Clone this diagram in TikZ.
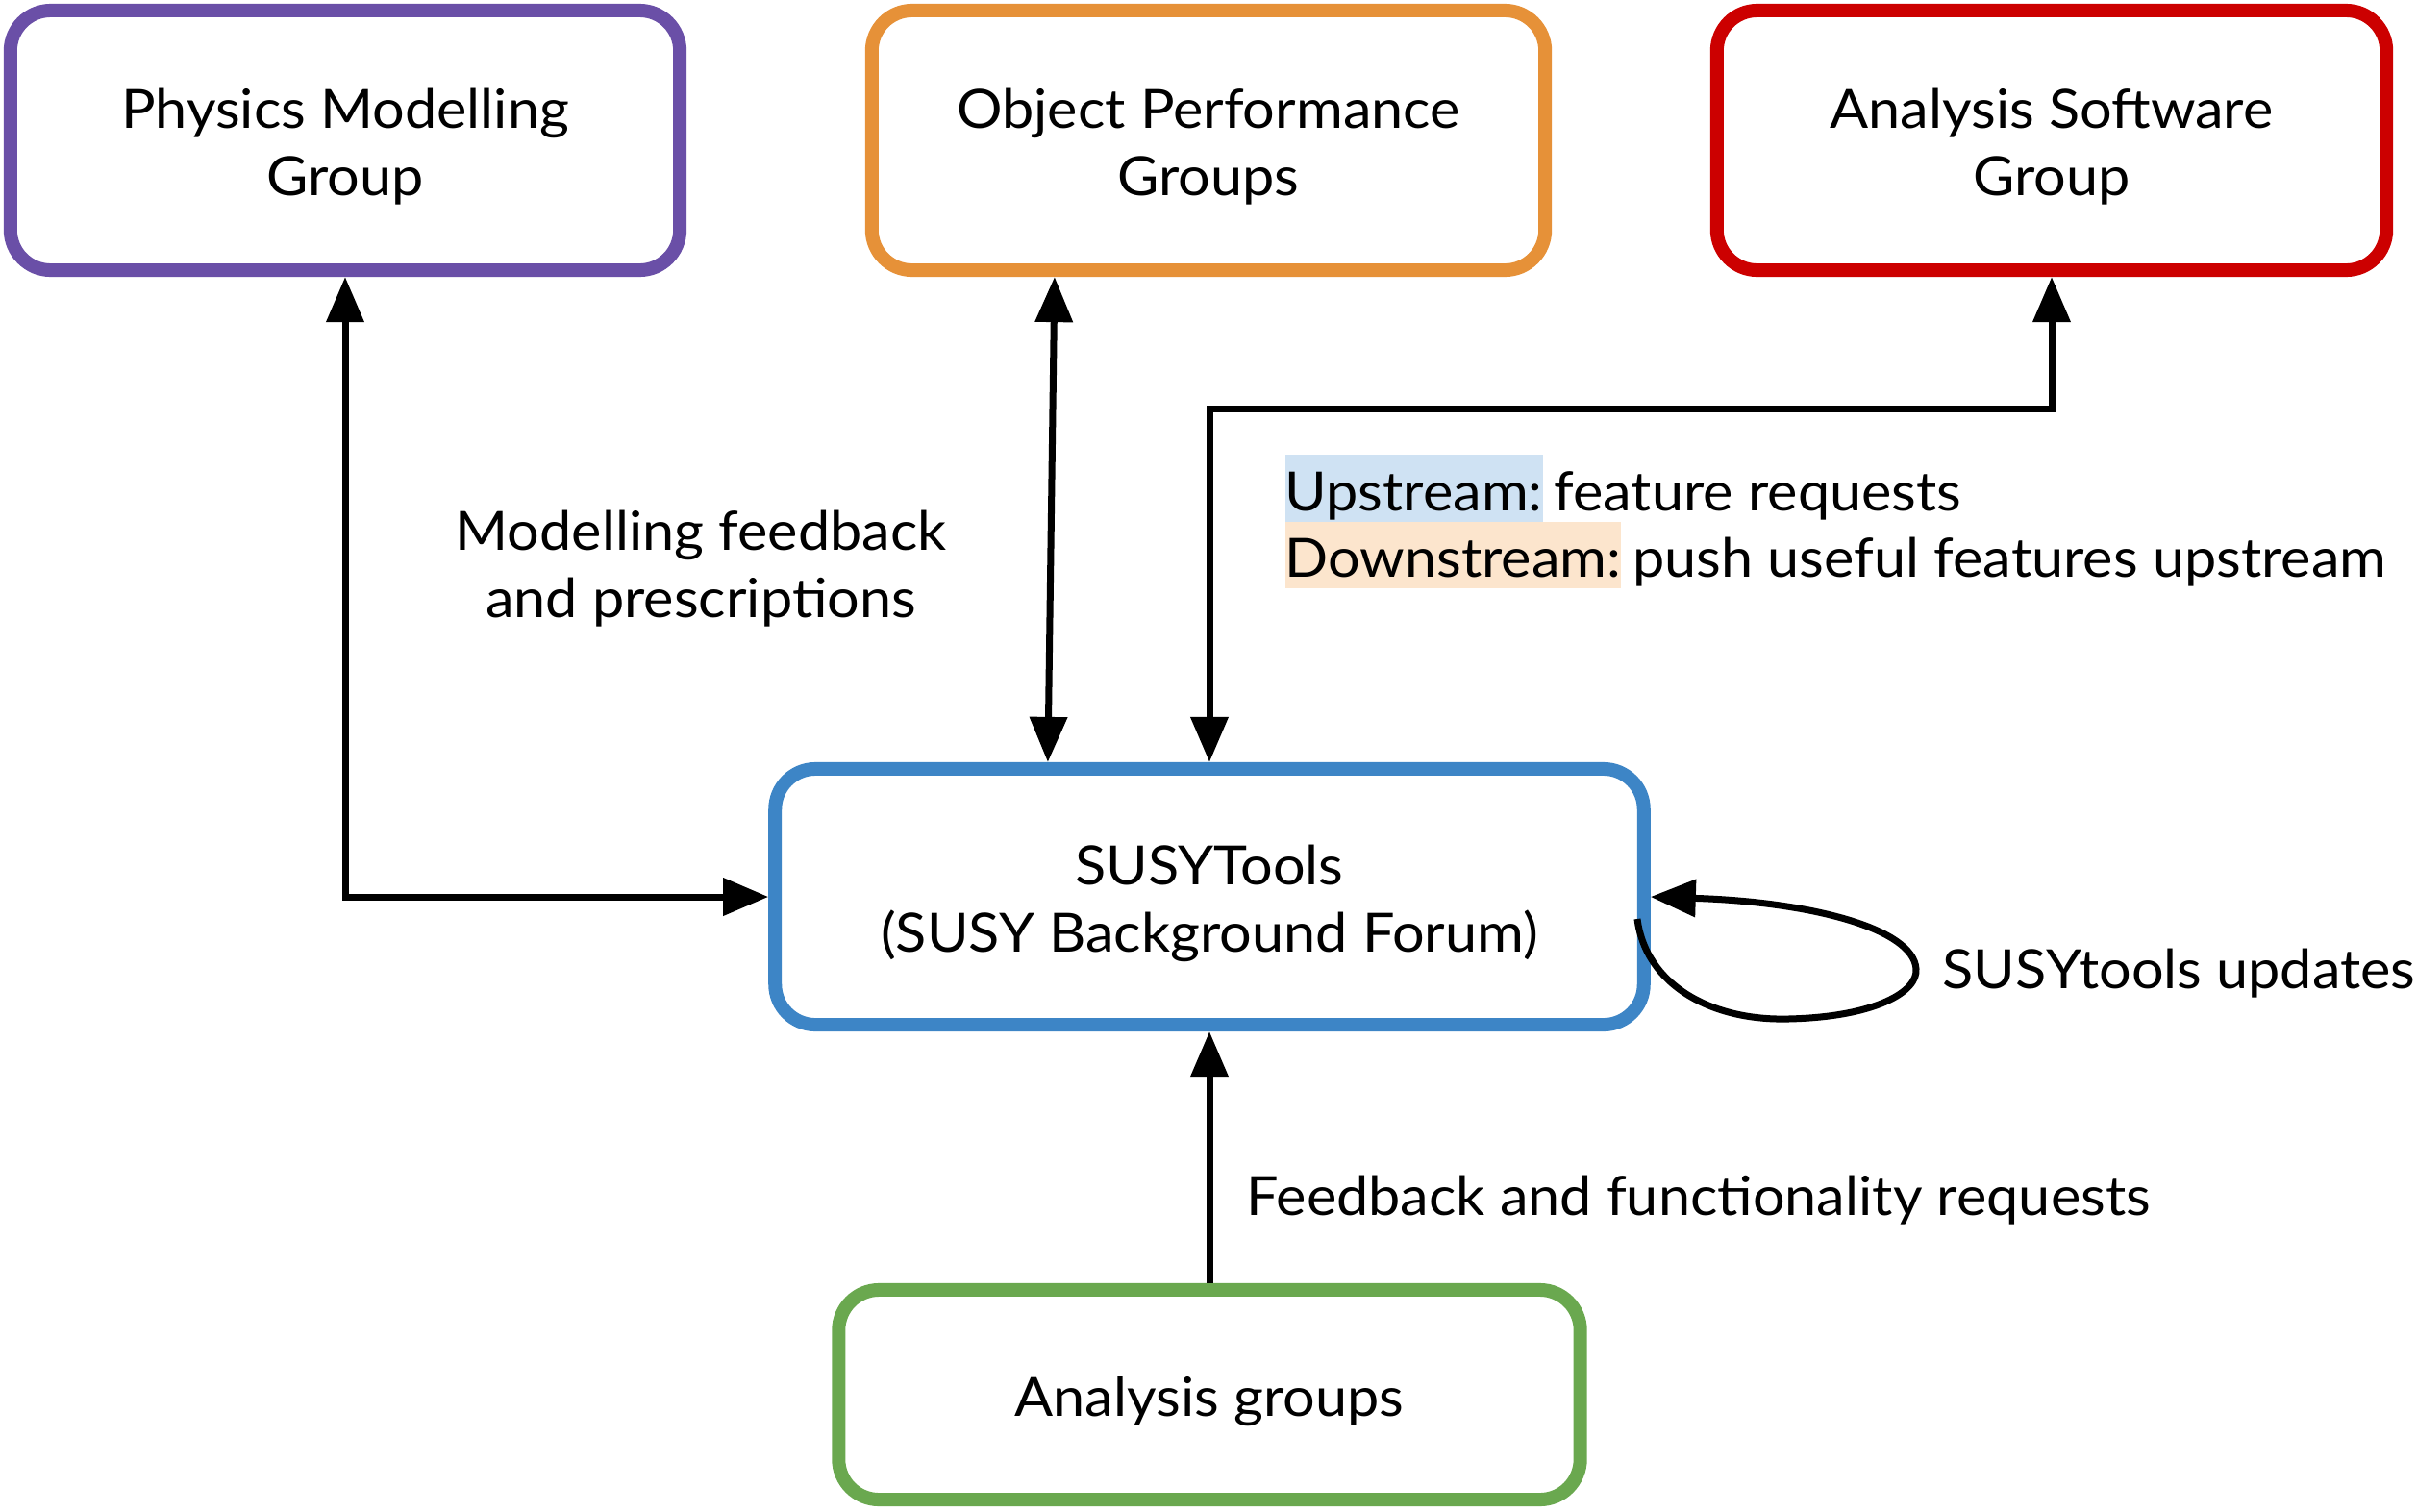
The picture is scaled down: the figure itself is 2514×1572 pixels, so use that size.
\documentclass[tikz,border=0pt]{standalone}
\usepackage{fontspec}
\setmainfont{Lato}[FakeStretch=1.055]
\usetikzlibrary{arrows.meta,calc}
\definecolor{cpurple}{RGB}{106,79,167}
\definecolor{corange}{RGB}{230,145,56}
\definecolor{cred}{RGB}{204,0,0}
\definecolor{cblue}{RGB}{61,133,198}
\definecolor{cgreen}{RGB}{106,168,79}
\definecolor{hlblue}{RGB}{207,226,243}
\definecolor{hlorange}{RGB}{252,229,205}
\begin{document}
\begin{tikzpicture}[x=0.01cm,y=-0.01cm,
  every node/.style={font=\fontsize{16}{19.9}\selectfont},
  groupbox/.style={draw, rectangle, rounded corners=0.42cm, line width=0.14cm, fill=white},
  boxtext/.style={label={[align=center, inner sep=0, yshift=-0.07cm]center:#1}},
  conn/.style={line width=0.07cm, -{Triangle[length=0.47cm,width=0.38cm]}},
  biconn/.style={line width=0.07cm, {Triangle[length=0.47cm,width=0.38cm]}-{Triangle[length=0.47cm,width=0.38cm]}},
  lbl/.style={align=center, inner sep=0},
  hl/.style={anchor=base west, inner xsep=0, inner ysep=0}
]
\useasboundingbox (0,0) rectangle (2514,1572);

\node[groupbox, draw=cpurple, minimum width=6.96cm, minimum height=2.70cm, boxtext={Physics Modelling\\Group}] (pm) at (359,146) {};
\node[groupbox, draw=corange, minimum width=7.00cm, minimum height=2.70cm, boxtext={Object Performance\\Groups}] (op) at (1257,146) {};
\node[groupbox, draw=cred, minimum width=6.96cm, minimum height=2.70cm, boxtext={Analysis Software\\Group}] (as) at (2134,146) {};
\node[groupbox, draw=cblue, minimum width=9.03cm, minimum height=2.66cm, boxtext={SUSYTools\\(SUSY Background Forum)}] (susy) at (1258,933) {};
\node[groupbox, draw=cgreen, minimum width=7.71cm, minimum height=2.18cm, boxtext={Analysis groups}] (ag) at (1258,1451) {};

% connectors
\draw[biconn] (pm.south) |- (susy.west);
\draw[biconn] ([xshift=-1.60cm]op.south) -- ([xshift=-1.68cm]susy.north);
\coordinate (bend) at (2134,425);
\draw[biconn] (susy.north) |- (bend) -| (as.south);
\draw[conn] (ag.north) -- (susy.south);
\coordinate (loopstart) at (1703,956);
\draw[conn] (loopstart) .. controls (1712,1025) and (1780,1062) .. (1860,1060)
  .. controls (1950,1058) and (1995,1032) .. (1993,1008)
  .. controls (1990,965) and (1880,938) .. (susy.east);

% labels
\node[lbl] (mf) at (729,592) {Modelling feedback\\and prescriptions};
\node[hl, fill=hlblue, text height=0.58cm, text depth=0.12cm] (up) at (1336,531) {Upstream:};
\node[anchor=base west, inner sep=0] (upt) at ([xshift=0.3em]up.base east) {feature requests};
\node[hl, fill=hlorange, text height=0.57cm, text depth=0.12cm] (down) at (1336,600) {Downstream:};
\node[anchor=base west, inner sep=0] (downt) at ([xshift=0.3em]down.base east) {push useful features upstream};
\node[anchor=west, inner sep=0] (upd) at (2020,1013) {SUSYtools updates};
\node[anchor=west, inner sep=0] (fb) at (1296,1249) {Feedback and functionality requests};
\end{tikzpicture}
\end{document}
